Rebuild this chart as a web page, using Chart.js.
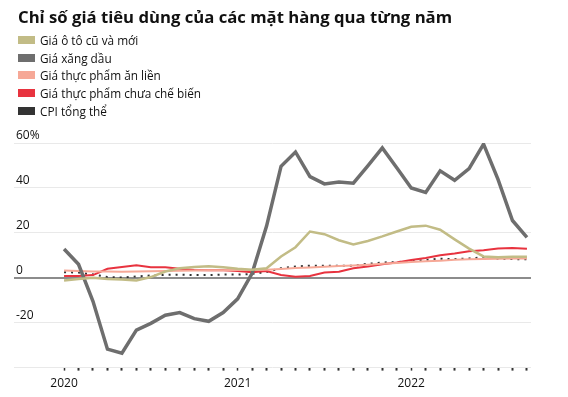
<!DOCTYPE html>
<html>
<head>
<meta charset="utf-8">
<script src="https://cdn.jsdelivr.net/npm/chart.js@4.4.0/dist/chart.umd.min.js"></script>
<style>
  body { margin: 0; background: #fff; }
  #wrap { position: relative; width: 568px; height: 397px; overflow: hidden; }
  #tieude { position: absolute; left: 18px; top: 5px; font: bold 16.7px "Open Sans", sans-serif; color: #111; white-space: nowrap; }
  #chuthich { position: absolute; left: 18px; top: 31px; font: 11.8px "Open Sans", sans-serif; color: #111; }
  .dong { height: 17.8px; display: flex; align-items: center; white-space: nowrap; }
  .o { width: 17px; height: 8px; margin-right: 5px; }
  canvas { position: absolute; left: 0; top: 0; }
</style>
</head>
<body>
<div id="wrap">
  <canvas id="graf" width="568" height="397"></canvas>
  <div id="tieude">Chỉ số giá tiêu dùng của các mặt hàng qua từng năm</div>
  <div id="chuthich"></div>
</div>
<script>
// thang 1/2020 -> thang 9/2022, moi thang mot diem
let thang = [];
for (let i = 0; i < 33; i++) thang.push(i);
let nhanNam = {0: '2020', 12: '2021', 24: '2022'};

let tenSeri = ['Giá ô tô cũ và mới', 'Giá xăng dầu', 'Giá thực phẩm ăn liền', 'Giá thực phẩm chưa chế biến', 'CPI tổng thể'];
let mauSeri = ['#c2bc86', '#6e6e6e', '#f6a897', '#e8333f', '#333333'];

let otoCu = [-1.2, -0.6, 0, -0.5, -0.8, -1.2, 0.3, 2.8, 4.2, 4.8, 5.1, 4.7, 4.0,
             3.6, 4.2, 9.5, 13.6, 20.6, 19.4, 16.7, 14.8, 16.4, 18.4, 20.6,
             22.7, 23.2, 21.4, 17.1, 13.0, 9.5, 9.1, 9.4, 9.4];
let xangDau = [12.8, 6.0, -10.5, -31.8, -33.6, -23.3, -20.3, -16.7, -15.5, -18.2, -19.4, -15.5, -9.4,
               2.0, 23.0, 49.6, 56.0, 45.0, 41.8, 42.6, 42.1, 49.8, 57.8, 49.0,
               40.0, 38.0, 47.6, 43.4, 48.6, 59.5, 43.8, 25.5, 18.0];
let anLien = [3.2, 3.0, 2.8, 2.8, 2.7, 2.8, 2.9, 3.0, 3.1, 3.2, 3.3, 3.3, 3.4,
              3.5, 3.6, 3.9, 4.3, 4.6, 4.9, 5.2, 5.5, 5.8, 6.2, 6.6,
              7.0, 7.3, 7.6, 8.0, 8.2, 8.4, 8.5, 8.6, 8.6];
let chuaCheBien = [0.8, 0.8, 1.2, 4.0, 4.8, 5.6, 4.7, 4.7, 4.0, 3.5, 3.3, 3.3, 3.0,
                   2.4, 3.0, 1.2, 0.5, 0.8, 2.3, 2.7, 4.2, 5.0, 6.0, 6.8,
                   7.9, 8.8, 10.0, 10.8, 11.8, 12.3, 13.0, 13.3, 12.9];
let cpi = [2.5, 2.3, 1.5, 0.3, 0.1, 0.6, 1.0, 1.3, 1.4, 1.2, 1.2, 1.4, 1.4,
           1.7, 2.6, 4.2, 5.0, 5.4, 5.4, 5.3, 5.4, 6.2, 6.8, 7.0,
           7.5, 7.9, 8.5, 8.3, 8.6, 9.1, 8.5, 8.3, 8.2];

let giaTri = [otoCu, xangDau, anLien, chuaCheBien, cpi];
let doDay = [2.5, 3.5, 2, 2, 2];

document.addEventListener("DOMContentLoaded", ()=>{
    let cont = document.getElementById('graf').getContext('2d');
    let datasets = giaTri.map((arr, k) => ({
        label: tenSeri[k],
        data: arr.map((v, i) => ({x: thang[i], y: v})),
        borderColor: mauSeri[k],
        backgroundColor: mauSeri[k],
        borderWidth: doDay[k],
        borderDash: k == 4 ? [2, 5] : [],
        pointRadius: 0,
        tension: 0,
        fill: false,
    }));

    let graf = new Chart(cont, {
        type: 'line',
        data: { datasets: datasets },
        options: {
            responsive: false,
            animation: false,
            layout: { padding: { top: 143, left: 10, right: 37, bottom: 0 } },
            plugins: { legend: { display: false }, tooltip: { enabled: false } },
            scales: {
                x: {
                    type: 'linear',
                    min: -3.46,
                    max: 32.28,
                    border: { display: false },
                    afterBuildTicks: (ax) => {
                        ax.ticks = thang.map(v => ({value: v}));
                    },
                    grid: {
                        drawOnChartArea: false,
                        drawTicks: true,
                        tickLength: 3,
                        tickWidth: (c) => (c.tick && nhanNam[c.tick.value]) ? 1.5 : 2,
                        tickColor: '#333',
                    },
                    ticks: {
                        autoSkip: false,
                        maxRotation: 0,
                        padding: 6,
                        color: '#111',
                        font: { family: 'Open Sans', size: 12 },
                        callback: (v) => nhanNam[v] || '',
                    }
                },
                y: {
                    min: -40,
                    max: 60,
                    border: { display: false },
                    grid: {
                        drawTicks: false,
                        color: (c) => c.tick && c.tick.value === 0 ? '#8c8c8c' : '#e9e9e9',
                        lineWidth: (c) => c.tick && c.tick.value === 0 ? 2 : 1,
                    },
                    ticks: {
                        stepSize: 20,
                        mirror: true,
                        padding: 2,
                        labelOffset: -7,
                        color: '#111',
                        font: { family: 'Open Sans', size: 12 },
                        callback: (v) => v === 60 ? '60%' : (v === -40 ? '' : String(v)),
                    }
                }
            }
        }
    });

    // chu thich dang cot
    let ct = document.getElementById('chuthich');
    graf.data.datasets.forEach(ds => {
        let d = document.createElement('div');
        d.className = 'dong';
        d.innerHTML = '<span class="o" style="background:' + ds.borderColor + '"></span>' + ds.label;
        ct.appendChild(d);
    });
});
</script>
</body>
</html>
